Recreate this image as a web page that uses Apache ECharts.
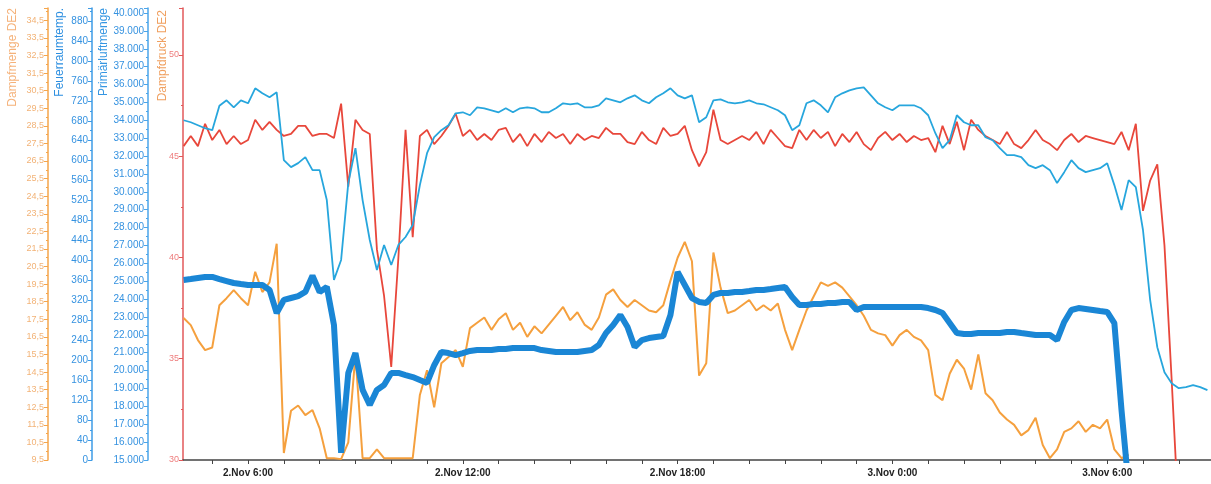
<!DOCTYPE html>
<html><head><meta charset="utf-8">
<script src="https://cdn.jsdelivr.net/npm/echarts@6/dist/echarts.min.js"></script>
<style>html,body{margin:0;padding:0;background:#fff}#c{width:1211px;height:484px}</style>
</head><body><div id="c"></div>
<script>
// time is counted in hours from 2.Nov 0:00; samples start 04:12, every 12 minutes
const startHour = 4.2;
const stepHours = 0.2;
const axisMinHour = 4.183;
const axisMaxHour = 32.9;
// x tick labels and hourly tick marks (hours from 2.Nov 0:00)
const labelHours = [6, 12, 18, 24, 30];
const tickHours = [5,6,7,8,9,10,11,12,13,14,15,16,17,18,19,20,21,22,23,24,25,26,27,28,29,30,31,32];

const axisNames = ['Dampfmenge DE2', 'Feuerraumtemp.', 'Primärluftmenge', 'Dampfdruck DE2'];

// Dampfdruck DE2 (bar)
const dampfdruck = [
 45.5,46.0,45.5,46.6,45.8,46.3,45.6,46.0,45.6,45.8,
 46.8,46.3,46.7,46.3,46.0,46.1,46.5,46.5,46.0,46.1,
 46.1,45.9,47.6,43.5,46.8,46.3,46.1,40.4,38.1,34.6,
 40.0,46.3,41.0,46.0,46.3,45.6,46.0,46.5,47.1,46.0,
 46.3,45.8,46.1,45.8,46.3,46.4,45.7,46.1,45.5,46.1,
 45.7,46.2,45.9,46.1,45.6,46.1,45.8,46.0,45.9,46.4,
 46.1,46.1,45.7,45.6,46.2,45.8,45.6,46.4,46.0,46.1,
 46.5,45.3,44.5,45.2,47.3,45.8,45.6,45.8,46.0,45.8,
 46.2,45.6,46.3,45.9,45.5,45.4,46.3,45.8,46.3,45.9,
 46.2,45.5,46.1,45.7,46.2,45.6,45.3,45.9,46.2,45.8,
 46.1,45.7,46.0,45.8,45.9,45.2,46.5,45.6,46.7,45.3,
 46.8,46.3,46.0,45.8,45.6,46.2,45.6,45.4,45.8,46.3,
 45.8,45.6,45.3,45.8,46.1,45.7,46.0,45.9,45.8,45.7,
 45.6,46.2,45.3,46.6,42.3,43.8,44.6,40.6,34.0,27.0,
 null,null,null,null];

// Feuerraumtemperatur (°C)
const feuerraumtemp = [
 681,677,671,665,661,710,721,707,721,715,
 745,735,727,737,601,587,595,607,581,581,
 521,361,401,555,625,521,441,381,431,391,
 431,447,471,551,615,647,661,671,695,697,
 691,707,705,701,697,705,697,705,707,705,
 697,697,705,715,713,715,707,707,711,725,
 721,717,725,731,721,715,727,735,745,731,
 725,731,677,687,721,723,717,715,717,721,
 715,713,707,701,691,661,671,715,721,711,
 697,727,735,741,745,747,731,715,707,701,
 711,711,711,705,691,655,625,641,691,677,
 671,671,647,641,625,611,611,607,591,585,
 591,581,555,577,601,585,577,581,585,595,
 551,501,561,547,461,321,226,176,154,144,
 146,150,146,140];

// Primärluftmenge
const primaerluft = [
 25070,25120,25180,25240,25240,25120,25010,24900,24840,24790,
 24790,24790,24510,23220,23950,24060,24170,24400,25300,24400,
 24680,22550,15400,19870,20980,18920,18080,18920,19190,19870,
 19870,19750,19640,19470,19310,20300,21040,20980,20870,20980,
 21100,21150,21150,21150,21210,21210,21260,21260,21260,21260,
 21150,21100,21040,21040,21040,21040,21100,21150,21430,22100,
 22550,23110,22440,21320,21710,21820,21880,21940,23110,25520,
 24790,24060,23840,23780,24230,24340,24340,24400,24400,24450,
 24510,24510,24560,24620,24680,24120,23670,23670,23730,23730,
 23780,23780,23840,23840,23390,23560,23560,23560,23560,23560,
 23560,23560,23560,23560,23500,23390,23220,22660,22100,22050,
 22050,22100,22100,22100,22100,22160,22160,22100,22050,21990,
 21990,21990,21710,22720,23390,23500,23450,23390,23330,23280,
 22660,17800,13500,null,null,null,null,null,null,null,
 null,null,null,null];

// Dampfmenge DE2
const dampfmenge = [
 17.57,17.17,16.32,15.75,15.9,18.3,18.7,19.16,18.7,18.3,
 20.2,19.05,19.6,21.8,9.9,12.3,12.6,12.05,12.34,11.3,
 9.6,9.6,9.55,10.5,15.5,9.6,9.6,10.1,9.6,9.6,
 9.6,9.6,9.6,13.2,14.6,12.5,15.0,15.35,15.75,14.8,
 17.0,17.3,17.6,16.9,17.5,17.85,16.9,17.3,16.5,17.1,
 16.7,17.2,17.7,18.2,17.45,17.9,17.2,16.9,17.6,18.9,
 19.2,18.6,18.2,18.6,18.3,18.0,17.9,18.3,19.7,21.0,
 21.9,20.8,14.3,15.0,21.3,19.3,17.85,18.0,18.3,18.6,
 18.0,18.3,18.0,18.4,16.9,15.75,16.9,18.0,18.8,19.6,
 19.4,19.6,19.3,18.8,18.3,17.7,16.9,16.7,16.6,16.0,
 16.6,16.9,16.5,16.3,15.75,13.2,12.9,14.4,15.2,14.7,
 13.5,15.5,13.3,12.9,12.2,11.8,11.5,10.9,11.2,11.9,
 10.35,9.6,10.1,11.1,11.3,11.7,11.1,11.5,11.3,11.8,
 10.1,9.6,9.8,null,null,null,null,null,null,null,
 null,null,null,null];

const COL_RED = '#e8473b', COL_LBLUE = '#27a6dd', COL_BLUE = '#1a86d5', COL_ORANGE = '#f5a03e';

const times = dampfdruck.map((_, i) => Math.round((startHour + i * stepHours) * 1000) / 1000);
const pair = arr => arr.map((v, i) => [times[i], v]);

const deNum = v => Math.round(v).toString().replace(/\B(?=(\d{3})+(?!\d))/g, '.');
const hourLabel = h => {
  const day = 2 + Math.floor(h / 24);
  const hh = Math.round(h - 24 * Math.floor(h / 24));
  return day + '.Nov ' + hh + ':00';
};

function yAx(o) {
  return Object.assign({
    type: 'value', position: 'left',
    splitLine: { show: false },
    axisLine: { show: true, lineStyle: { color: o.color, width: 1.5 } },
    axisTick: { show: true, length: 4, lineStyle: { color: o.color } },
    minorTick: { show: true, splitNumber: 2, length: 2, lineStyle: { color: o.color } },
  }, o.ax, {
    axisLabel: Object.assign({ color: o.labelColor, fontSize: 10, margin: 4, showMaxLabel: false, fontFamily: 'Liberation Sans' }, o.label)
  });
}

const chart = echarts.init(document.getElementById('c'), null, { renderer: 'canvas' });
chart.setOption({
  animation: false,
  backgroundColor: '#ffffff',
  grid: { left: 183, right: 0, top: 8, bottom: 24, containLabel: false },
  xAxis: {
    type: 'value', min: axisMinHour, max: axisMaxHour,
    axisLine: { lineStyle: { color: '#444', width: 1.5 } },
    axisTick: { show: true, length: 4, lineStyle: { color: '#444' }, customValues: tickHours },
    minorTick: { show: false },
    splitLine: { show: false },
    axisLabel: {
      color: '#222', fontSize: 10, fontWeight: 'bold', margin: 8, fontFamily: 'Liberation Sans',
      customValues: labelHours,
      formatter: v => hourLabel(v)
    }
  },
  yAxis: [
    yAx({ color: '#f5a54a', labelColor: '#f2b276', ax: { offset: 135, min: 9.5, max: 35.2, interval: 1 },
          label: { fontSize: 9, formatter: v => v.toFixed(1).replace('.', ',') } }),
    yAx({ color: '#3d9be6', labelColor: '#3592e0', ax: { offset: 91, min: 0, max: 906, interval: 40 },
          label: { fontSize: 10 } }),
    yAx({ color: '#4aa5ea', labelColor: '#3592e0', ax: { offset: 35, min: 15000, max: 40280, interval: 1000 },
          label: { fontSize: 10, formatter: v => deNum(v) } }),
    yAx({ color: '#e2595a', labelColor: '#ee7d7d', ax: { offset: 0, min: 30, max: 52.32, interval: 5 },
          label: { fontSize: 9 } })
  ],
  graphic: [
    { type: 'text', x: 13, y: 8, rotation: Math.PI / 2, style: { text: axisNames[0], fill: '#f5b27a', font: '12px "Liberation Sans"', align: 'right', verticalAlign: 'middle' } },
    { type: 'text', x: 60, y: 8, rotation: Math.PI / 2, style: { text: axisNames[1], fill: '#2d8fe0', font: '12px "Liberation Sans"', align: 'right', verticalAlign: 'middle' } },
    { type: 'text', x: 104, y: 8, rotation: Math.PI / 2, style: { text: axisNames[2], fill: '#3596e2', font: '12px "Liberation Sans"', align: 'right', verticalAlign: 'middle' } },
    { type: 'text', x: 163, y: 10, rotation: Math.PI / 2, style: { text: axisNames[3], fill: '#f0a060', font: '12px "Liberation Sans"', align: 'right', verticalAlign: 'middle' } }
  ],
  series: [
    { name: axisNames[0], type: 'line', yAxisIndex: 0, data: pair(dampfmenge), showSymbol: false, symbol: 'none', lineStyle: { color: COL_ORANGE, width: 2 }, itemStyle: { color: COL_ORANGE } },
    { name: axisNames[2], type: 'line', yAxisIndex: 2, data: pair(primaerluft), showSymbol: false, symbol: 'none', lineStyle: { color: COL_BLUE, width: 6 }, itemStyle: { color: COL_BLUE } },
    { name: axisNames[3], type: 'line', yAxisIndex: 3, data: pair(dampfdruck), showSymbol: false, symbol: 'none', lineStyle: { color: COL_RED, width: 1.8 }, itemStyle: { color: COL_RED } },
    { name: axisNames[1], type: 'line', yAxisIndex: 1, data: pair(feuerraumtemp), showSymbol: false, symbol: 'none', lineStyle: { color: COL_LBLUE, width: 1.8 }, itemStyle: { color: COL_LBLUE } }
  ]
});
</script>
</body></html>
